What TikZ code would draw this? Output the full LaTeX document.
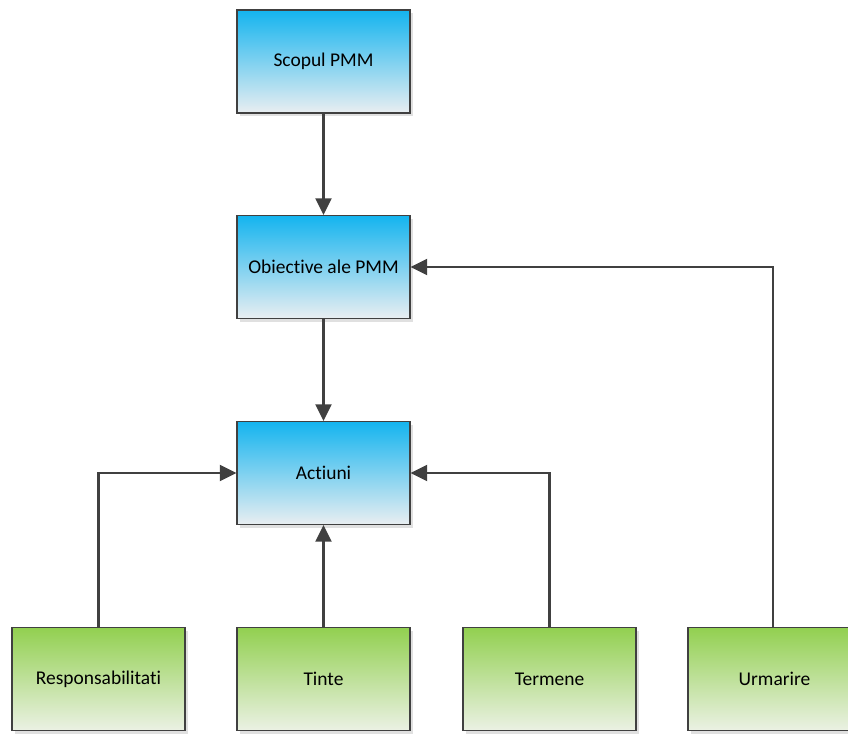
\documentclass[tikz,border=0pt]{standalone}
\usepackage{fontspec}
\setmainfont[Ligatures=NoCommon]{Carlito}
\usetikzlibrary{shadows,arrows.meta}
\definecolor{topblue}{HTML}{14B4EF}
\definecolor{lowblue}{HTML}{E9EEF1}
\definecolor{topgreen}{HTML}{92D050}
\definecolor{lowgreen}{HTML}{EBF1E4}
\definecolor{edgegray}{HTML}{404040}
\begin{document}
\begin{tikzpicture}[x=0.75pt, y=-0.75pt,
  box/.style={rectangle, draw=edgegray, line width=0.8pt, minimum width=129.75pt, minimum height=77.25pt,
    font=\fontsize{14.6}{16}\selectfont, drop shadow={shadow xshift=2.5pt, shadow yshift=-2.5pt, fill=black!12, opacity=1}},
  plan/.style={box, top color=topblue, bottom color=lowblue},
  task/.style={box, top color=topgreen, bottom color=lowgreen},
  link/.style={line width=1.6pt, draw=edgegray, -{Triangle[length=12.5pt, width=12pt]}}]
\useasboundingbox (0,0) rectangle (848,733);

\node at (323.5, 61.5) [plan] (scope) {Scopul PMM};
\node at (323.5, 267) [plan] (goals) {Obiective ale PMM};
\node at (323.5, 473) [plan] (actions) {Actiuni};

\node at (98.5, 679) [task] (resp) {Responsabilitati};
\node at (323.5, 679) [task] (targets) {Tinte};
\node at (549.5, 679) [task] (terms) {Termene};
\node at (774.5, 679) [task] (follow) {Urmarire};

\draw[link] (scope) -- (goals);
\draw[link] (goals) -- (actions);
\draw[link] (targets) -- (actions);
\draw[link] (resp.north) |- (actions.west);
\draw[link] (terms.north) |- (actions.east);
\draw[link] (follow.north -| 773,0) |- (goals.east);
\end{tikzpicture}
\end{document}
